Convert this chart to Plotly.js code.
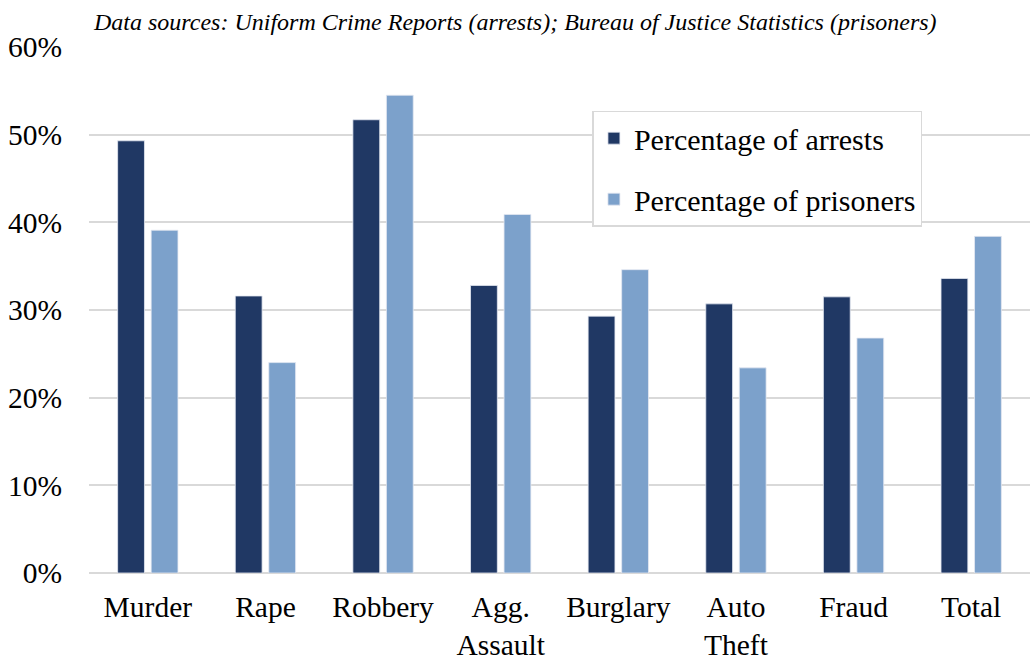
<!DOCTYPE html>
<html>
<head>
<meta charset="utf-8">
<script src="https://cdn.plot.ly/plotly-3.0.1.min.js"></script>
</head>
<body style="margin:0;padding:0;background:#fff">
<div id="chart" style="width:1033px;height:656px"></div>
<script>
const categories = ["Murder", "Rape", "Robbery", "Agg.<br>Assault", "Burglary", "Auto<br>Theft", "Fraud", "Total"];
const arrests = [0.493, 0.316, 0.517, 0.328, 0.293, 0.307, 0.315, 0.336];
const prisoners = [0.391, 0.240, 0.545, 0.409, 0.346, 0.234, 0.268, 0.384];
const seriesNames = ["Percentage of arrests", "Percentage of prisoners"];
const subtitle = "Data sources: Uniform Crime Reports (arrests); Bureau of Justice Statistics (prisoners)";

const fam = "Liberation Serif";

const traces = [
  {type: "bar", name: seriesNames[0], x: categories, y: arrests, legendgroup: "a",
   marker: {color: "#203864", line: {color: "#e4e9f1", width: 0.8}}},
  {type: "bar", name: seriesNames[1], x: categories, y: prisoners, legendgroup: "b",
   marker: {color: "#7ca1cb", line: {color: "#e4e9f1", width: 0.8}}}
];

const layout = {
  width: 1033, height: 656,
  paper_bgcolor: "#ffffff", plot_bgcolor: "#ffffff",
  margin: {l: 89, r: 3, t: 47, b: 83, pad: 0},
  barmode: "group", bargap: 0.43, bargroupgap: 0.2,
  font: {family: fam, size: 29, color: "#000000"},
  xaxis: {
    tickfont: {family: fam, size: 29.5, color: "#000000"},
    showgrid: false, zeroline: false, showline: false, ticks: "",
    ticklabelstandoff: 13,
    automargin: false, fixedrange: true
  },
  yaxis: {
    range: [0, 0.6], tickvals: [0, 0.1, 0.2, 0.3, 0.4, 0.5, 0.6],
    tickformat: ".0%",
    tickfont: {family: fam, size: 29.5, color: "#000000"},
    showgrid: true, gridcolor: "#d9d9d9", gridwidth: 1.5,
    zeroline: true, zerolinecolor: "#d9d9d9", zerolinewidth: 1.5,
    showline: false, ticks: "", ticklabelstandoff: 26,
    automargin: false, fixedrange: true
  },
  legend: {
    x: 0.535, y: 0.879, xanchor: "left", yanchor: "top",
    bgcolor: "#ffffff", bordercolor: "#d9d9d9", borderwidth: 1.5,
    font: {family: fam, size: 30, color: "#000000"},
    traceorder: "grouped", tracegroupgap: 19
  },
  annotations: [{
    text: "<i>" + subtitle + "</i>", xref: "paper", yref: "paper",
    x: 0.453, y: 1.047, xanchor: "center", yanchor: "middle", showarrow: false,
    font: {family: fam, size: 24, color: "#000000"}
  }],
  showlegend: true
};

Plotly.newPlot("chart", traces, layout, {displayModeBar: false});
</script>
</body>
</html>
